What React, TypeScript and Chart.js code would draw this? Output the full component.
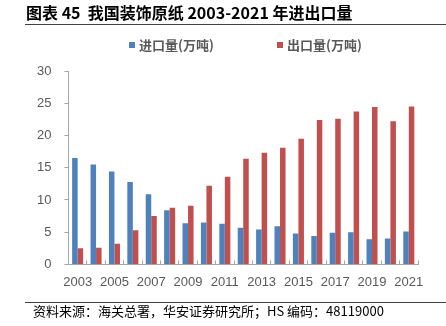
import React, { useEffect, useRef } from "react";
import { Chart, registerables } from "chart.js";

Chart.register(...registerables);

const years = ["2003","2004","2005","2006","2007","2008","2009","2010","2011","2012","2013","2014","2015","2016","2017","2018","2019","2020","2021"];
const importVol = [16.5, 15.5, 14.4, 12.8, 10.9, 8.4, 6.4, 6.5, 6.3, 5.7, 5.4, 5.9, 4.8, 4.4, 4.9, 5.0, 3.9, 4.0, 5.1];
const exportVol = [2.5, 2.6, 3.2, 5.3, 7.5, 8.8, 9.1, 12.2, 13.6, 16.4, 17.3, 18.1, 19.5, 22.4, 22.6, 23.7, 24.4, 22.2, 24.5];
const seriesNames = ["进口量(万吨)", "出口量(万吨)"];
const colors = ["#4F81BD", "#C0504D"];
const titleText = "图表 45  我国装饰原纸 2003-2021 年进出口量";
const sourceText = "资料来源：海关总署，华安证券研究所；HS 编码：48119000";

const CJK = '"Noto Sans CJK SC", "Liberation Sans", sans-serif';

export default function App() {
  const ref = useRef<HTMLCanvasElement | null>(null);
  useEffect(() => {
    if (!ref.current) return;
    const chart = new Chart(ref.current, {
      type: "bar",
      data: {
        labels: years,
        datasets: [
          { label: seriesNames[0], data: importVol, backgroundColor: colors[0], barPercentage: 1, categoryPercentage: 0.6 },
          { label: seriesNames[1], data: exportVol, backgroundColor: colors[1], barPercentage: 1, categoryPercentage: 0.6 },
        ],
      },
      options: {
        responsive: false,
        animation: false,
        layout: { padding: { left: 24, right: 28, top: 71, bottom: 22 } },
        plugins: { legend: { display: false }, tooltip: { enabled: false }, title: { display: false } },
        scales: {
          x: {
            border: { display: true, color: "#A6A6A6", width: 1 },
            grid: { display: true, drawOnChartArea: false, drawTicks: true, tickLength: -4, color: "#A6A6A6", offset: true },
            ticks: {
              autoSkip: false,
              maxRotation: 0,
              padding: 14,
              color: "#595959",
              font: { family: '"Liberation Sans", Arial, sans-serif', size: 13 },
              callback: (v: any, i: number) => (i % 2 === 0 ? years[i] : ""),
            },
          },
          y: {
            min: 0,
            max: 30,
            border: { display: true, color: "#A6A6A6", width: 1 },
            grid: { display: true, drawOnChartArea: false, drawTicks: true, tickLength: 4, color: "#A6A6A6" },
            ticks: {
              stepSize: 5,
              padding: 13,
              color: "#595959",
              font: { family: '"Liberation Sans", Arial, sans-serif', size: 13 },
            },
          },
        },
      },
    });
    return () => chart.destroy();
  }, []);

  return (
    <div style={{ position: "fixed", left: 0, top: 0, width: 446, height: 326, background: "#fff", overflow: "hidden" }}>
      <canvas ref={ref} width={446} height={326} style={{ position: "absolute", left: 0, top: 0 }} />
      <div style={{ position: "absolute", left: 26, top: 2, fontFamily: CJK, fontWeight: 700, fontSize: 16, color: "#000", whiteSpace: "pre", lineHeight: "20px" }}>{titleText}</div>
      <div style={{ position: "absolute", left: 25, top: 24, width: 421, height: 1, background: "#404040" }} />
      {seriesNames.map((n, i) => (
        <div key={n} style={{ position: "absolute", left: i === 0 ? 129 : 277, top: 36, display: "flex", alignItems: "center", fontFamily: CJK, fontSize: 13, fontWeight: 700, color: "#595959", whiteSpace: "nowrap", lineHeight: "18px" }}>
          <span style={{ display: "inline-block", width: 6, height: 6, background: colors[i], marginRight: 4 }} />
          <span>{n}</span>
        </div>
      ))}
      <div style={{ position: "absolute", left: 25, top: 302, width: 421, height: 1, background: "#404040" }} />
      <div style={{ position: "absolute", left: 33, top: 302, fontFamily: CJK, fontSize: 13, color: "#000", whiteSpace: "pre", lineHeight: "18px" }}>{sourceText}</div>
    </div>
  );
}
